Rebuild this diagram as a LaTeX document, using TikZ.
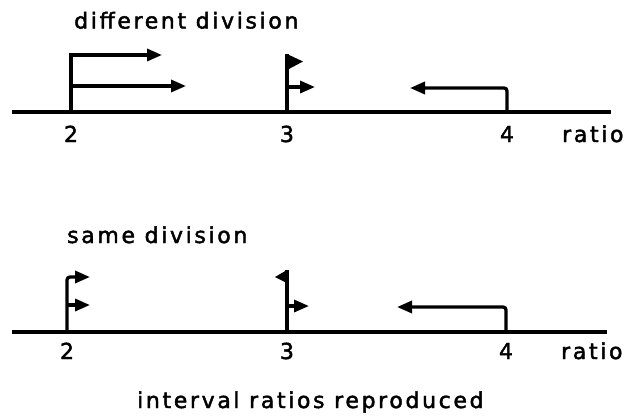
\documentclass[tikz,border=0pt]{standalone}
\usepackage{fontspec}
\setmainfont{DejaVu Sans}[LetterSpace=12, FakeBold=2]
\usetikzlibrary{arrows.meta}
\tikzset{
  axisline/.style={line width=3.3pt},
  stem/.style={line width=3.3pt},
  arr/.style={line width=3.3pt, -{Triangle[length=15pt,width=12pt]}},
  flagtri/.style={fill=black},
  lbl/.style={font=\fontsize{22}{22}\selectfont, inner sep=0pt, anchor=base},
  ttl/.style={font=\fontsize{22}{22}\selectfont, inner sep=0pt, anchor=base west}
}
\begin{document}
\begin{tikzpicture}[x=1pt,y=-1pt]
\useasboundingbox (0,0) rectangle (636,418);
% ---------- top: different division ----------
\node[ttl] (t1) at (74,28.5) {different division};
\coordinate (aL) at (12,112);
\coordinate (aR) at (611,112);
\draw[axisline] (aL) -- (aR);
% tick 2
\coordinate (p2) at (71,112);
\coordinate (p2m) at (71,86);
\coordinate (q21) at (162,55);
\coordinate (q22) at (186,86);
\draw[arr] (p2) |- (q21);
\draw[arr] (p2m) -- (q22);
% tick 3
\coordinate (p3) at (287,112);
\coordinate (p3t) at (287,54);
\coordinate (p3m) at (287,87);
\coordinate (q3) at (315,87);
\draw[stem] (p3) -- (p3t);
\fill[flagtri] (p3t) -- ++(16,7.5) -- ++(-16,8.5) -- cycle;
\draw[arr] (p3m) -- (q3);
% tick 4
\coordinate (p4) at (507,112);
\coordinate (q4) at (410,88);
\draw[arr, rounded corners=3pt] (p4) |- (q4);
% labels
\node[lbl] (n2) at (71,142) {2};
\node[lbl] (n3) at (287,142) {3};
\node[lbl] (n4) at (507,142) {4};
\node[ttl] (r1) at (562,142) {ratio};
% ---------- bottom: same division ----------
\node[ttl] (t2) at (67,243) {same division};
\coordinate (bL) at (12,332);
\coordinate (bR) at (607,332);
\draw[axisline] (bL) -- (bR);
% tick 2
\coordinate (s2) at (67,332);
\coordinate (s2m) at (67,305);
\coordinate (u21) at (90,277);
\coordinate (u22) at (90,305);
\draw[arr, rounded corners=3pt] (s2) |- (u21);
\draw[arr] (s2m) -- (u22);
% tick 3
\coordinate (s3) at (287,332);
\coordinate (s3t) at (287,270);
\coordinate (s3m) at (287,306);
\coordinate (u3) at (309,306);
\draw[stem] (s3) -- (s3t);
\fill[flagtri] (s3t) -- ++(-12,7) -- ++(12,6) -- cycle;
\draw[arr] (s3m) -- (u3);
% tick 4
\coordinate (s4) at (506,332);
\coordinate (u4) at (397,307);
\draw[arr, rounded corners=3pt] (s4) |- (u4);
% labels
\node[lbl] (m2) at (67,359) {2};
\node[lbl] (m3) at (287,359) {3};
\node[lbl] (m4) at (506,359) {4};
\node[ttl] (r2) at (561,359) {ratio};
\node[ttl] (cap) at (137,408) {interval ratios reproduced};
\end{tikzpicture}
\end{document}
